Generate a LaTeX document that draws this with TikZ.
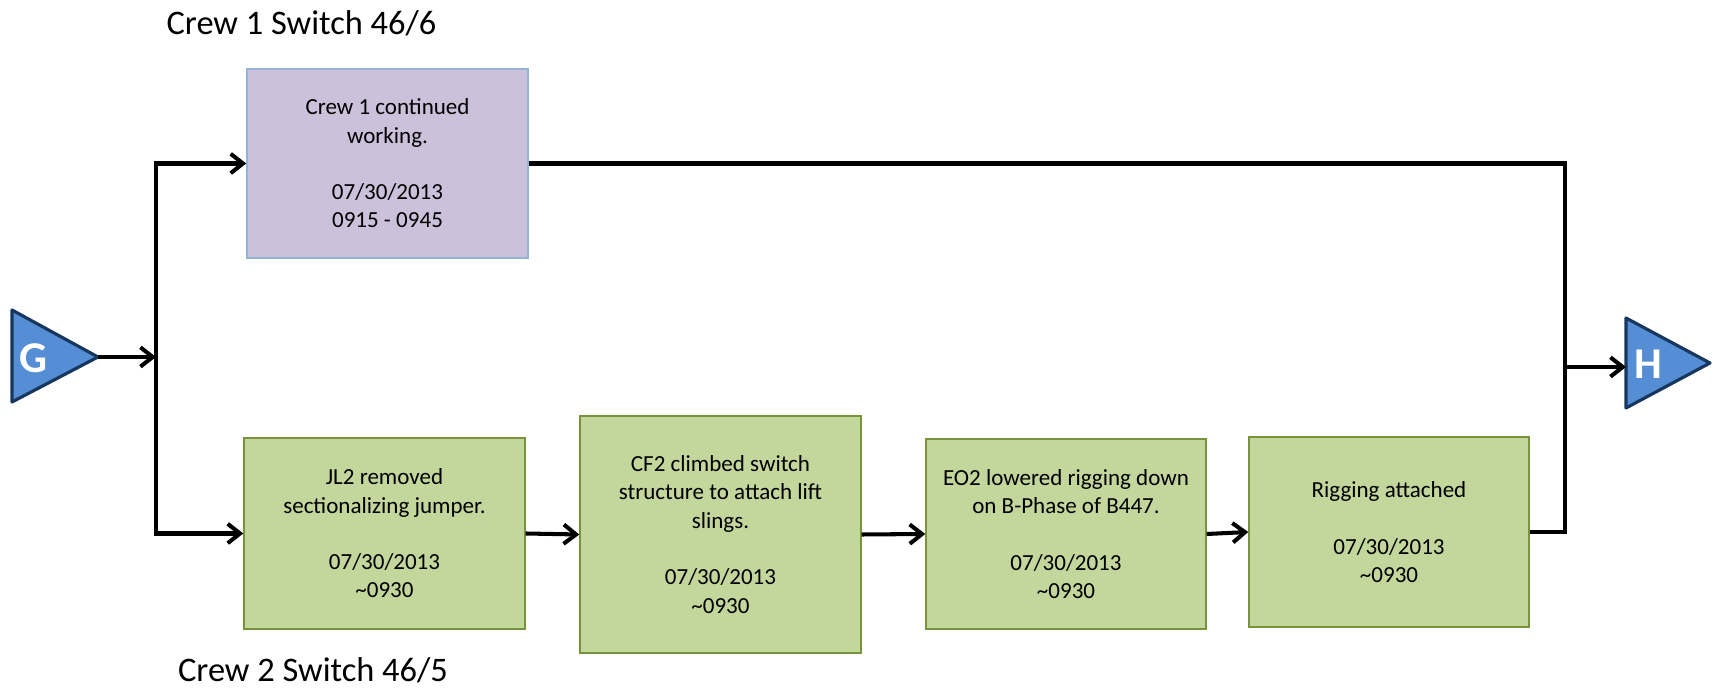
\documentclass[tikz,border=0pt]{standalone}
\usepackage{fontspec}
\setmainfont{Carlito}
\usetikzlibrary{arrows.meta}
\definecolor{lilac}{RGB}{204,193,218}
\definecolor{lilacline}{RGB}{149,179,215}
\definecolor{leaf}{RGB}{195,214,155}
\definecolor{leafline}{RGB}{119,147,60}
\definecolor{marker}{RGB}{85,142,213}
\definecolor{markerline}{RGB}{23,55,94}
\begin{document}
\begin{tikzpicture}[
		wire/.style={line width=2.3pt},
		flow/.style={line width=2.3pt,-{Straight Barb[length=7pt,width=11pt]}},
		task/.style={draw=leafline,fill=leaf,line width=0.8pt,align=center,inner sep=0pt,font=\fontsize{13.1}{16.1}\selectfont},
		crewtask/.style={task,draw=lilacline,fill=lilac},
		heading/.style={anchor=base,inner sep=0pt,font=\fontsize{19.6}{23}\selectfont},
		pointer/.style={fill=marker,draw=markerline,line width=1.8pt,line join=round},
		letter/.style={text=white,inner sep=0pt,font=\bfseries\fontsize{25}{29}\selectfont}
	]
		    \useasboundingbox (0,0) rectangle (34.26,13.8);
		    \node[heading] (crew1) at (6.03,13.1) {Crew 1 Switch 46/6};
		    \node[heading] (crew2) at (6.26,0.17) {Crew 2 Switch 46/5};
		    \node[crewtask,minimum width=5.62cm,minimum height=3.78cm] (working) at (7.75,10.53) {Crew 1 continued\\working.\\[16.1pt]07/30/2013\\0915 - 0945};
		    \node[task,minimum width=5.62cm,minimum height=3.82cm] (jumper) at (7.69,3.13) {JL2 removed\\sectionalizing jumper.\\[16.1pt]07/30/2013\\\textasciitilde0930};
		    \node[task,minimum width=5.62cm,minimum height=4.74cm] (slings) at (14.41,3.11) {CF2 climbed switch\\structure to attach lift\\slings.\\[16.1pt]07/30/2013\\\textasciitilde0930};
		    \node[task,minimum width=5.6cm,minimum height=3.8cm] (lowered) at (21.32,3.12) {EO2 lowered rigging down\\on B-Phase of B447.\\[16.1pt]07/30/2013\\\textasciitilde0930};
		    \node[task,minimum width=5.6cm,minimum height=3.8cm] (rigged) at (27.78,3.16) {Rigging attached\\[16.1pt]07/30/2013\\\textasciitilde0930};
		    \filldraw[pointer] (0.24,7.6) -- (1.96,6.66) -- (0.24,5.76) -- cycle;
		    \node[letter] (G) at (0.66,6.64) {G};
		    \filldraw[pointer] (32.52,7.44) -- (34.2,6.54) -- (32.52,5.64) -- cycle;
		    \node[letter] (H) at (32.96,6.52) {H};
		    \coordinate (gtip) at (1.96,6.66);
		    \coordinate (split) at (3.12,6.66);
		    \coordinate (join) at (31.3,6.46);
		    \coordinate (hin) at (32.52,6.46);
		    \draw[flow] (gtip) -- (split);
		    \draw[flow] (split) |- (working.west);
		    \draw[flow] (split) |- (jumper.west);
		    \draw[flow] (jumper.east) -- (slings.west);
		    \draw[flow] (slings.east) -- (lowered.west);
		    \draw[flow] (lowered.east) -- (rigged.west);
		    \draw[wire] (working.east) -| (join) |- (rigged.east);
		    \draw[flow] (join) -- (hin);
		\end{tikzpicture}
\end{document}
